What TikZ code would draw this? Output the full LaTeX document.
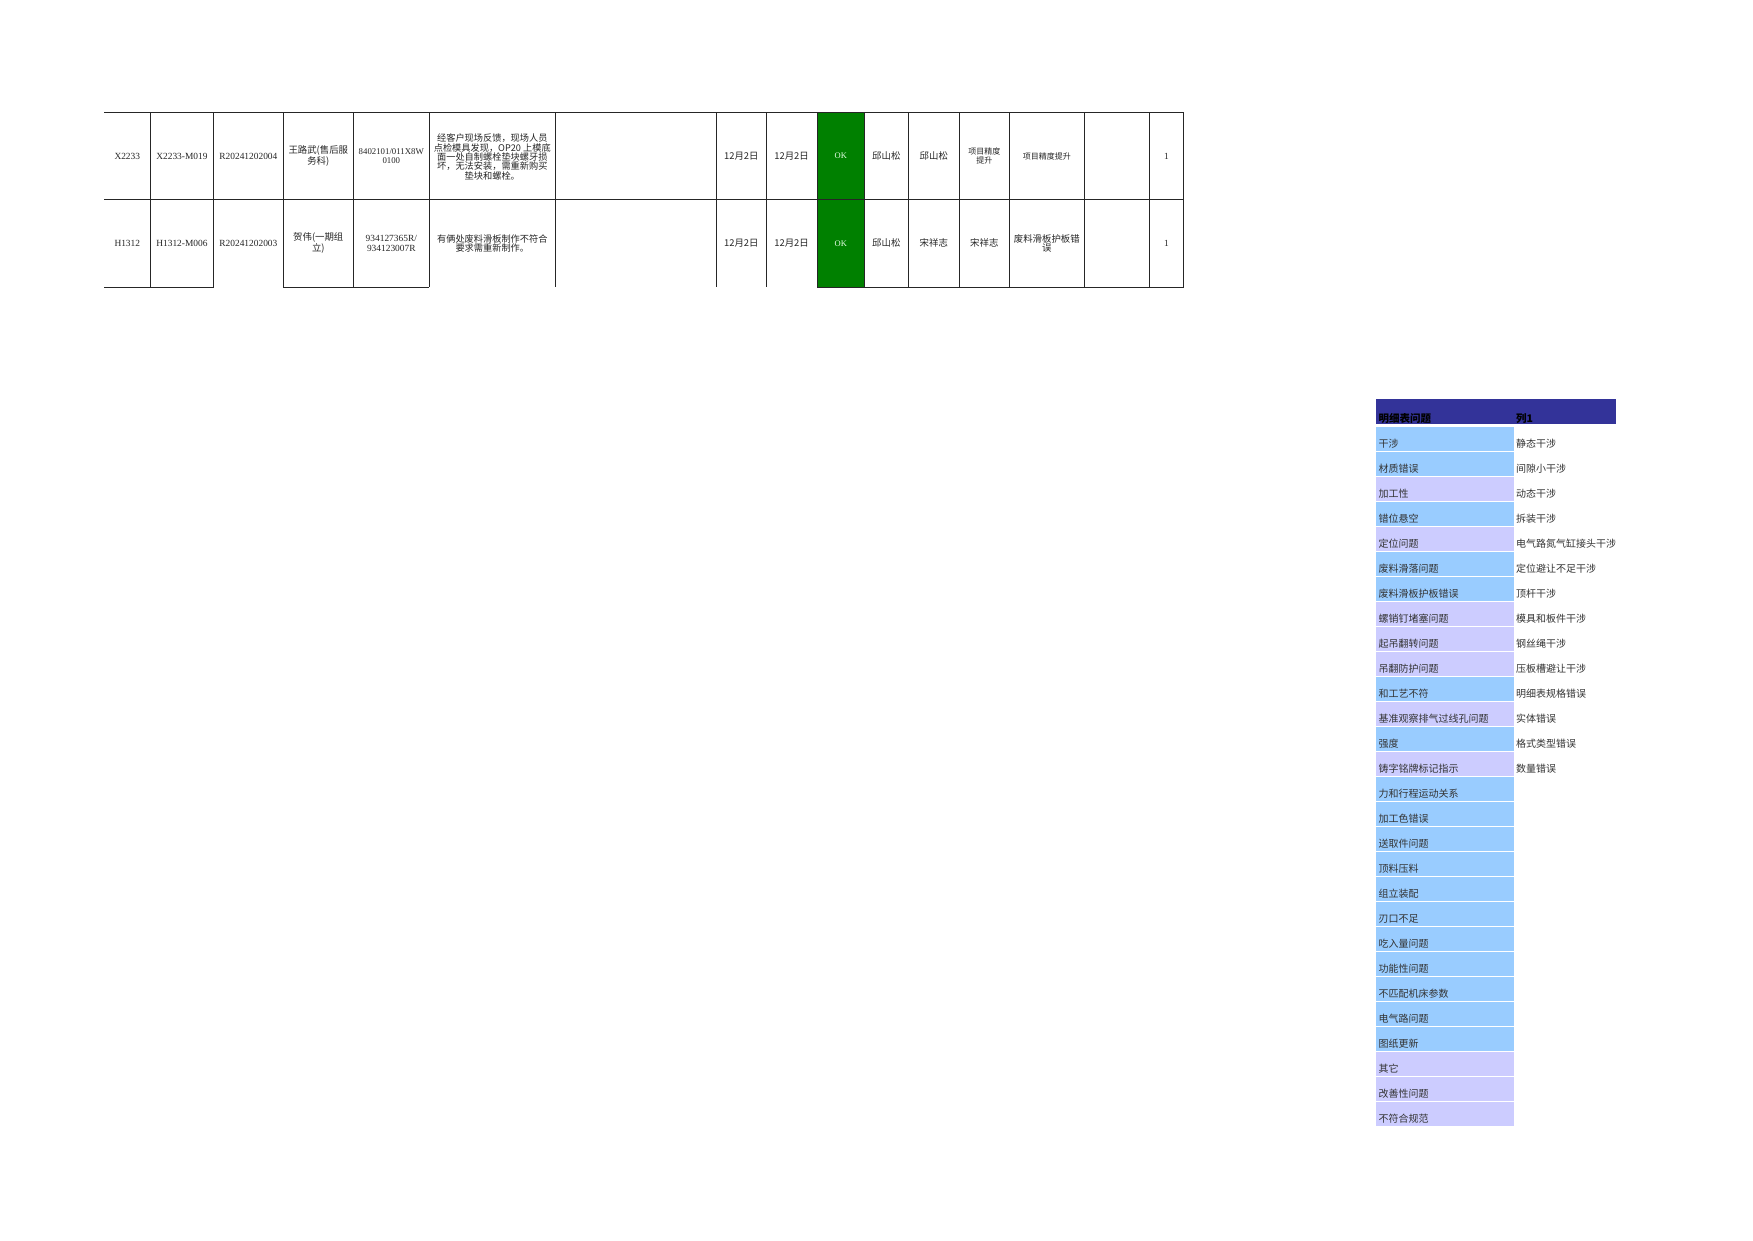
\documentclass[tikz,border=0pt]{standalone}
\usepackage{fontspec}
\setmainfont{Liberation Serif}
\newfontfamily\cjk{Noto Sans CJK SC}
\definecolor{hdr}{HTML}{333399}
\definecolor{lblue}{HTML}{99CCFF}
\definecolor{lav}{HTML}{CCCCFF}
\definecolor{okgreen}{HTML}{008000}
\begin{document}
\begin{tikzpicture}[x=1pt,y=-1pt,
  grid/.style={line width=0.9pt,draw=black!85},
  cell/.style={inner sep=0pt,align=center,text=black!85,font=\cjk\fontsize{9.4}{9.4}\selectfont},
  desc/.style={cell,font=\cjk\fontsize{9.2}{9.4}\selectfont},
  smallcell/.style={cell,font=\cjk\fontsize{8}{8.3}\selectfont},
  lat/.style={inner sep=0pt,align=center,text=black!85,font=\fontsize{9.4}{9.4}\selectfont},
  narrowlat/.style={lat,font=\fontsize{8.8}{9.4}\selectfont},
  oktext/.style={inner sep=0pt,text=white!90!green,font=\fontsize{8.5}{8.5}\selectfont},
  listtxt/.style={inner sep=0pt,anchor=base west,text=black!80,font=\cjk\fontsize{10}{10}\selectfont},
  hdrtxt/.style={inner sep=0pt,anchor=base west,text=black,font=\cjk\bfseries\fontsize{10.5}{10.5}\selectfont}]
\useasboundingbox (0,0) rectangle (1753,1240);
\fill[white] (0,0) rectangle (1753,1240);
% ---------- main table ----------
\fill[okgreen] (817.3,112.5) rectangle (864.3,287.3);
\draw[grid] (104.3,112.5) -- (1183.5,112.5);
\draw[grid] (104.3,199.3) -- (1183.5,199.3);
\draw[grid] (104.3,287.3) -- (213.5,287.3);
\draw[grid] (283.3,287.3) -- (429.3,287.3);
\draw[grid] (817.3,287.3) -- (1183.5,287.3);
\foreach \cx in {150.3,213.5,283.3,353.3,429.3,555.3,716.6,766,817.3,864.3,908.3,959.3,1009.3,1084.3,1149.3,1183.5}
  \draw[grid] (\cx,112.5) -- (\cx,287.3);
% row 1
\node[lat] (a1) at (127.3,156) {X2233};
\node[lat] (b1) at (181.9,156) {X2233-M019};
\node[lat] (c1) at (248.4,156) {R20241202004};
\node[cell] (d1) at (318.3,156) {王路武(售后服\\务科)};
\node[narrowlat] (e1) at (391.3,156) {8402101/011X8W\\0100};
\node[desc] (f1) at (492.3,157) {经客户现场反馈，现场人员\\点检模具发现，OP20 上模底\\面一处自制螺栓垫块螺牙损\\坏，无法安装，需重新购买\\垫块和螺栓。};
\node[cell] (g1) at (741.3,156) {12月2日};
\node[cell] (h1) at (791.6,156) {12月2日};
\node[oktext] (i1) at (840.8,156) {OK};
\node[cell] (j1) at (886.3,156) {邱山松};
\node[cell] (k1) at (933.8,156) {邱山松};
\node[smallcell] (l1) at (984.3,156) {项目精度\\提升};
\node[smallcell] (m1) at (1046.8,156) {项目精度提升};
\node[lat] (n1) at (1166.4,156) {1};
% row 2
\node[lat] (a2) at (127.3,243.3) {H1312};
\node[lat] (b2) at (181.9,243.3) {H1312-M006};
\node[lat] (c2) at (248.4,243.3) {R20241202003};
\node[cell] (d2) at (318.3,243.3) {贺伟(一期组\\立)};
\node[lat] (e2) at (391.3,243.3) {934127365R/\\934123007R};
\node[desc] (f2) at (492.3,243.3) {有俩处废料滑板制作不符合\\要求需重新制作。};
\node[cell] (g2) at (741.3,243.3) {12月2日};
\node[cell] (h2) at (791.6,243.3) {12月2日};
\node[oktext] (i2) at (840.8,243.3) {OK};
\node[cell] (j2) at (886.3,243.3) {邱山松};
\node[cell] (k2) at (933.8,243.3) {宋祥志};
\node[cell] (l2) at (984.3,243.3) {宋祥志};
\node[cell] (m2) at (1046.8,243.3) {废料滑板护板错\\误};
\node[lat] (n2) at (1166.4,243.3) {1};
% ---------- right list ----------
\fill[hdr] (1376,399.3) rectangle (1615.7,424.3);
\node[hdrtxt] (hd1) at (1378.5,422) {明细表问题};
\node[hdrtxt] (hd2) at (1516,422) {列1};
\foreach \t/\c [count=\i from 0] in {干涉/lblue,材质错误/lblue,加工性/lav,错位悬空/lblue,定位问题/lav,废料滑落问题/lblue,废料滑板护板错误/lblue,螺销钉堵塞问题/lav,起吊翻转问题/lav,吊翻防护问题/lav,和工艺不符/lblue,基准观察排气过线孔问题/lav,强度/lblue,铸字铭牌标记指示/lav,力和行程运动关系/lblue,加工色错误/lblue,送取件问题/lblue,顶料压料/lblue,组立装配/lblue,刃口不足/lblue,吃入量问题/lblue,功能性问题/lblue,不匹配机床参数/lblue,电气路问题/lblue,图纸更新/lblue,其它/lav,改善性问题/lav,不符合规范/lav}{
  \fill[\c] (1376,426.5+25*\i) rectangle (1514,450.5+25*\i);
  \node[listtxt] (p\i) at (1378.5,447+25*\i) {\t};
}
\foreach \t [count=\i from 0] in {静态干涉,间隙小干涉,动态干涉,拆装干涉,电气路氮气缸接头干涉,定位避让不足干涉,顶杆干涉,模具和板件干涉,钢丝绳干涉,压板槽避让干涉,明细表规格错误,实体错误,格式类型错误,数量错误}{
  \node[listtxt] (q\i) at (1516,447+25*\i) {\t};
}
\end{tikzpicture}
\end{document}
